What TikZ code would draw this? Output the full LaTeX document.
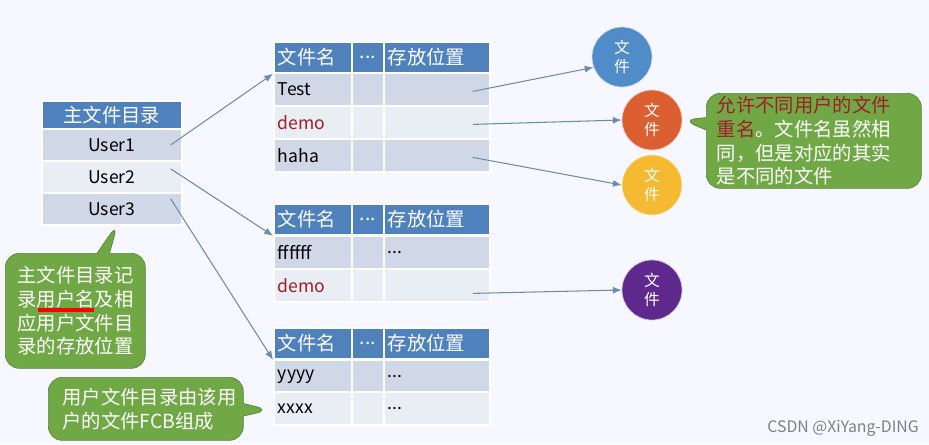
\documentclass[tikz,border=0pt]{standalone}
\usepackage{fontspec}
\setmainfont{Noto Sans CJK SC}
\usepackage{tikz}
\usetikzlibrary{arrows.meta, calc, positioning, shapes.callouts}
\definecolor{hdblue}{RGB}{79, 129, 189}
\definecolor{rowdark}{RGB}{208, 216, 232}
\definecolor{rowlight}{RGB}{233, 237, 244}
\definecolor{demored}{RGB}{160, 30, 40}
\definecolor{notegreen}{RGB}{112, 168, 70}
\definecolor{filblue}{RGB}{79, 140, 200}
\definecolor{filred}{RGB}{220, 95, 50}
\definecolor{filyellow}{RGB}{245, 185, 50}
\definecolor{filpurple}{RGB}{95, 40, 140}
\definecolor{linkgray}{RGB}{110, 140, 170}
\newcommand{\dd}{...}
\newcommand{\demo}{\color{demored}demo}

\tikzset{
  cell/.style={draw=white, line width=1pt, anchor=north west, inner sep=0pt, minimum height=#1*0.02cm},
  hd/.style={cell=31, fill=hdblue, text=white, font=\fontsize{11}{13}\selectfont},
  rowa/.style={cell=33, fill=rowdark},
  rowb/.style={cell=33, fill=rowlight},
  file/.style={circle, minimum size=1.2cm, inner sep=0pt, text=white, align=center, font=\small, draw=white!70!#1, fill=#1},
  note/.style={rectangle callout, rounded corners=8pt, fill=notegreen, draw=notegreen!80!black,
    text=white, align=left, anchor=north west, inner sep=0pt, text width=#1, font=\fontsize{11}{13.5}\selectfont},
  link/.style={-{Latex[length=5pt,width=4pt]}, linkgray, line width=0.6pt}
}

\begin{document}
\begin{tikzpicture}[x=0.02cm, y=-0.02cm]
	\useasboundingbox (0,0) rectangle (929,444);
	\fill[white!97!blue] (0,0) rectangle (929,444);

	% main directory
	\node[hd, minimum width=140*0.02cm, minimum height=28*0.02cm] (mfd) at (41,100) {主文件目录};
	\node[rowa, minimum width=140*0.02cm, minimum height=32*0.02cm] (u1) at (41,128) {User1};
	\node[rowb, minimum width=140*0.02cm, minimum height=32*0.02cm] (u2) at (41,160) {User2};
	\node[rowa, minimum width=140*0.02cm, minimum height=32*0.02cm] (u3) at (41,192) {User3};

	% user file directories
	\foreach \t/\y in {a/41, b/203, c/327} {
		\node[hd, minimum width=78*0.02cm, text width=70*0.02cm, align=left, anchor=north west] (\t0n) at (273,\y) {文件名};
		\node[hd, minimum width=32*0.02cm] (\t0d) at (351,\y) {\dd};
		\node[hd, minimum width=106*0.02cm, text width=98*0.02cm, align=left] (\t0p) at (383,\y) {存放位置};
	}
	\foreach \t/\r/\y/\n/\p/\s in {a/1/72/Test//rowa, a/2/105/\demo//rowb, a/3/138/haha//rowa,
		b/1/235/ffffff/\dd/rowa, b/2/268/\demo//rowb,
		c/1/359/yyyy/\dd/rowa, c/2/391/xxxx/\dd/rowb} {
		\node[\s, minimum width=78*0.02cm, text width=70*0.02cm, align=left] (\t\r n) at (273,\y) {\n};
		\node[\s, minimum width=32*0.02cm] (\t\r d) at (351,\y) {};
		\node[\s, minimum width=106*0.02cm, text width=98*0.02cm, align=left] (\t\r p) at (383,\y) {\p};
	}

	% files
	\node[file=filblue] (f1) at (622,57) {文\\件};
	\node[file=filred] (f2) at (652,120) {文\\件};
	\node[file=filyellow] (f3) at (652,185) {文\\件};
	\node[file=filpurple] (f4) at (652,290) {文\\件};

	% links
	\draw[link] ($(u1.east)+(-12,0)$) -- (a0n.south west);
	\draw[link] ($(u2.east)+(-12,-8)$) -- (b0n.south west);
	\draw[link] ($(u3.east)+(-12,-10)$) -- (c0n.south west);
	\draw[link] ($(a1p.east)+(-18,2)$) -- (f1.200);
	\draw[link] ($(a2p.east)+(-18,2)$) -- (f2.west);
	\draw[link] ($(a3p.east)+(-18,2)$) -- (f3.west);
	\draw[link] ($(b2p.east)+(-18,8)$) -- (f4.west);

	% notes
	\node[note=4.3cm, minimum height=95*0.02cm, callout absolute pointer={(f2.east)}] (n1) at (706,93)
		{\hspace{6pt}\parbox{4cm}{\color{demored}允许不同用户的文件\\重名\color{white}。文件名虽然相\\同，但是对应的其实\\是不同的文件}};
	\node[note=2.8cm, minimum height=115*0.02cm, callout absolute pointer={(118,223)}] (n2) at (5,253)
		{\hspace{7pt}\parbox{2.5cm}{主文件目录记\\录用户名及相\\应用户文件目\\录的存放位置}};
	\draw[red, line width=2pt] ($(n2.north west)+(33,57)$) -- ++(56,0);
	\node[note=3.9cm, minimum height=63*0.02cm, callout absolute pointer={(270,410)}] (n3) at (48,377)
		{\hspace{8pt}\parbox{3.6cm}{用户文件目录由该用\\户的文件FCB组成}};

	\node[gray, font=\small, anchor=east] (mark) at (925,428) {CSDN @XiYang-DING};
\end{tikzpicture}
\end{document}
